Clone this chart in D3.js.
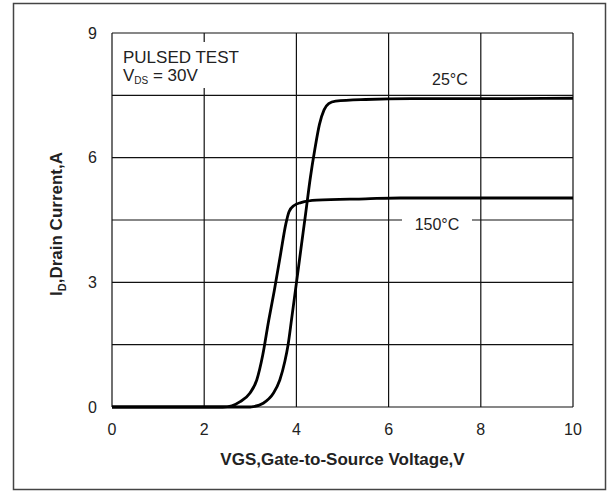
<!DOCTYPE html>
<html>
<head>
<meta charset="utf-8">
<script src="https://cdn.jsdelivr.net/npm/d3@7"></script>
<style>
  body { margin: 0; background: #fff; }
  svg { display: block; font-family: "Liberation Sans", Arial, sans-serif; }
</style>
</head>
<body>
<div id="chart"></div>
<script>
// transfer characteristics
const vgs25 = [0, 2.6, 3.0, 3.07, 3.28, 3.5, 3.64, 3.75, 3.82, 3.9, 4.0, 4.1, 4.2, 4.3, 4.4, 4.5, 4.6, 4.7, 4.85, 5.5, 6.5, 8, 10];
const id25 = [0, 0, 0, 0.01, 0.09, 0.33, 0.65, 1.1, 1.5, 2.15, 2.98, 3.82, 4.65, 5.5, 6.2, 6.8, 7.15, 7.3, 7.36, 7.4, 7.42, 7.42, 7.43];

const vgs150 = [0, 2.4, 2.6, 2.78, 2.99, 3.14, 3.27, 3.4, 3.52, 3.66, 3.77, 3.84, 3.95, 4.1, 4.44, 5.5, 6.25, 8, 10];
const id150 = [0, 0, 0.03, 0.13, 0.33, 0.65, 1.25, 2.09, 2.8, 3.7, 4.4, 4.7, 4.85, 4.92, 4.98, 5.01, 5.03, 5.03, 5.03];

const xTicks = [0, 2, 4, 6, 8, 10];
const yTicks = [0, 3, 6, 9];
const yGrid = [0, 1.5, 3, 4.5, 6, 7.5, 9];

const curveNames = ['25°C', '150°C'];
const curveLabelX = [7.33, 7.05];
const curveLabelY = [7.75, 4.25];

const width = 607;
const height = 491;
const margin = { top: 33, right: 34, bottom: 84, left: 112 };

const svg = d3
  .select('#chart')
  .append('svg')
  .attr('width', width)
  .attr('height', height);

const x = d3.scaleLinear().domain([0, 10]).range([margin.left, width - margin.right]);
const y = d3.scaleLinear().domain([0, 9]).range([height - margin.bottom, margin.top]);

// outer frame round the whole figure
svg
  .append('rect')
  .attr('x', 13.5)
  .attr('y', 3.5)
  .attr('width', 592)
  .attr('height', 486)
  .attr('fill', 'none')
  .attr('stroke', '#444')
  .attr('stroke-width', 1.5);

const grid = svg.append('g').attr('stroke', '#111').attr('stroke-width', 1.2);

grid
  .selectAll('line.v')
  .data(xTicks)
  .join('line')
  .attr('class', 'v')
  .attr('x1', d => x(d))
  .attr('x2', d => x(d))
  .attr('y1', y(0))
  .attr('y2', y(9));

grid
  .selectAll('line.h')
  .data(yGrid)
  .join('line')
  .attr('class', 'h')
  .attr('x1', x(0))
  .attr('x2', x(10))
  .attr('y1', d => y(d))
  .attr('y2', d => y(d));

// tick labels
svg
  .append('g')
  .attr('font-size', 16)
  .attr('fill', '#222')
  .attr('text-anchor', 'middle')
  .selectAll('text')
  .data(xTicks)
  .join('text')
  .attr('x', d => x(d))
  .attr('y', y(0) + 28)
  .text(d => d);

svg
  .append('g')
  .attr('font-size', 16)
  .attr('fill', '#222')
  .attr('text-anchor', 'end')
  .selectAll('text')
  .data(yTicks)
  .join('text')
  .attr('x', x(0) - 15)
  .attr('y', d => y(d))
  .attr('dy', '0.36em')
  .text(d => d);

// white box behind the test conditions note
svg
  .append('rect')
  .attr('x', x(0) + 4)
  .attr('y', 42)
  .attr('width', 140)
  .attr('height', 46)
  .attr('fill', '#fff');

const note = svg.append('g').attr('font-size', 17).attr('fill', '#222');
note.append('text').attr('x', 123).attr('y', 63).text('PULSED TEST');
const vds = note.append('text').attr('x', 123).attr('y', 81);
vds.append('tspan').text('V');
vds.append('tspan').attr('font-size', 10).attr('dy', 3).text('DS');
vds.append('tspan').attr('dy', -3).text(' = 30V');

const line = d3
  .line()
  .x(d => x(d[0]))
  .y(d => y(d[1]))
  .curve(d3.curveMonotoneX);

const series = [d3.zip(vgs25, id25), d3.zip(vgs150, id150)];

svg
  .append('g')
  .selectAll('path')
  .data(series)
  .join('path')
  .attr('fill', 'none')
  .attr('stroke', '#000')
  .attr('stroke-width', 2.8)
  .attr('stroke-linejoin', 'round')
  .attr('d', line);

// curve labels
const labels = svg.append('g').attr('font-size', 16).attr('fill', '#222').attr('text-anchor', 'middle');

labels
  .append('rect')
  .attr('x', x(curveLabelX[1]) - 35)
  .attr('y', y(curveLabelY[1]) - 18)
  .attr('width', 70)
  .attr('height', 24)
  .attr('fill', '#fff');

labels
  .selectAll('text')
  .data(curveNames)
  .join('text')
  .attr('x', (d, i) => x(curveLabelX[i]))
  .attr('y', (d, i) => y(curveLabelY[i]))
  .text(d => d);

// axis titles
svg
  .append('text')
  .attr('x', (x(0) + x(10)) / 2)
  .attr('y', 465)
  .attr('text-anchor', 'middle')
  .attr('font-size', 17)
  .attr('font-weight', 'bold')
  .attr('fill', '#222')
  .text('VGS,Gate-to-Source Voltage,V');

const yTitle = svg
  .append('text')
  .attr('transform', `translate(62,${(y(0) + y(9)) / 2 + 4}) rotate(-90)`)
  .attr('text-anchor', 'middle')
  .attr('font-size', 17)
  .attr('font-weight', 'bold')
  .attr('fill', '#222');
yTitle.append('tspan').text('I');
yTitle.append('tspan').attr('font-size', 11).attr('dy', 4).text('D');
yTitle.append('tspan').attr('dy', -4).text(',Drain Current,A');
</script>
</body>
</html>
